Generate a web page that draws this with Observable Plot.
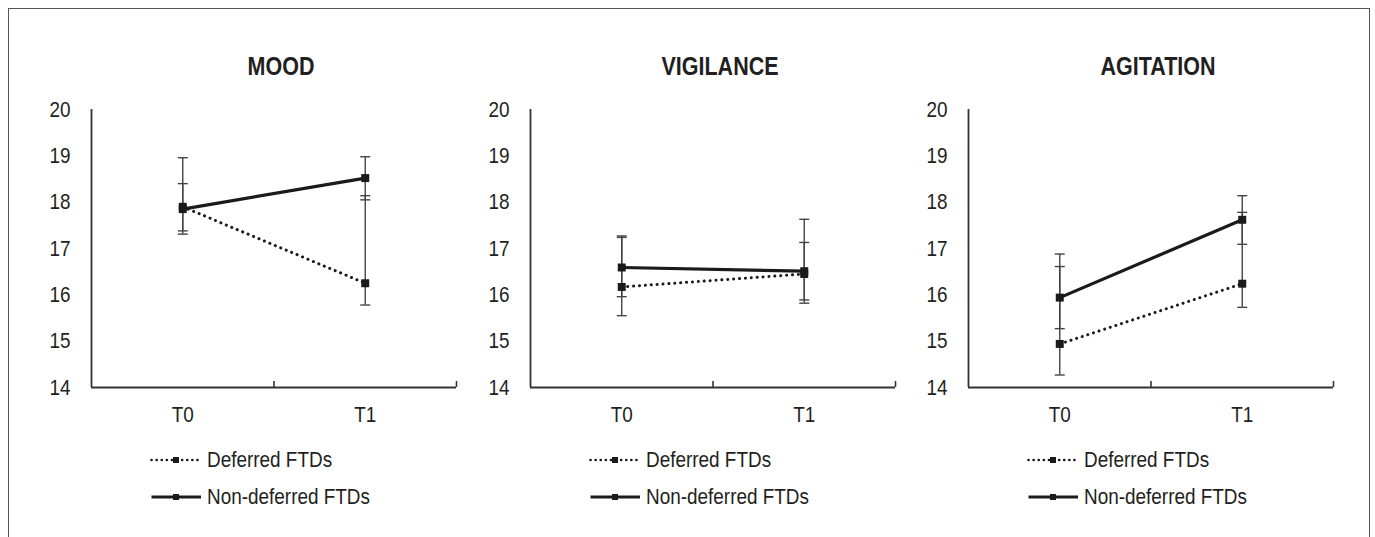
<!DOCTYPE html>
<html><head><meta charset="utf-8">
<script src="https://cdn.jsdelivr.net/npm/d3@7"></script>
<script src="https://cdn.jsdelivr.net/npm/@observablehq/plot@0.6"></script>
<style>
body{margin:0;background:#fff;}
#wrap{position:relative;width:1375px;height:537px;overflow:hidden;background:#fff;font-family:"Liberation Sans",Arial,sans-serif;color:#231f20;}
#frame{position:absolute;left:8px;top:8px;width:1362px;height:600px;border:1px solid #555;box-sizing:border-box;}
.panel{position:absolute;top:0;}
.legend{position:absolute;top:441px;font-size:22px;line-height:37px;}
.legend .row{display:flex;align-items:center;height:37px;white-space:nowrap;}
.legend svg{display:block;margin-right:5px;}
.legend span{display:inline-block;transform:scaleX(0.86);transform-origin:0 50%;}
</style></head>
<body><div id="wrap"><div id="frame"></div></div>
<script>
const panels = ["MOOD", "VIGILANCE", "AGITATION"];
const timepoints = ["T0", "T1"];
const seriesNames = ["Deferred FTDs", "Non-deferred FTDs"];
const yTicks = [14, 15, 16, 17, 18, 19, 20];
// [panel][timepoint]
const deferredMean = [[17.90, 16.25], [16.17, 16.45], [14.94, 16.24]];
const deferredLow  = [[17.38, 15.78], [15.55, 15.82], [14.27, 15.73]];
const deferredHigh = [[18.96, 18.14], [17.24, 17.63], [16.88, 17.78]];
const nondeferredMean = [[17.85, 18.52], [16.59, 16.51], [15.94, 17.62]];
const nondeferredLow  = [[17.31, 18.05], [15.96, 15.89], [15.27, 17.09]];
const nondeferredHigh = [[18.40, 18.98], [17.27, 17.13], [16.61, 18.14]];

const FONT = '"Liberation Sans",Arial,sans-serif';
const INK = "#231f20";
const NARROW = 0.86;
const capSymbol = {draw(ctx, size) { const w = Math.sqrt(size / Math.PI); ctx.moveTo(-w, 0); ctx.lineTo(w, 0); }};
const panelLefts = [0, 439, 877];
const wrap = document.getElementById("wrap");

panels.forEach((name, p) => {
  const rows = [];
  timepoints.forEach((t, i) => {
    rows.push({series: seriesNames[0], xpos: i + 0.5, mean: deferredMean[p][i], low: deferredLow[p][i], high: deferredHigh[p][i]});
    rows.push({series: seriesNames[1], xpos: i + 0.5, mean: nondeferredMean[p][i], low: nondeferredLow[p][i], high: nondeferredHigh[p][i]});
  });
  const caps = rows.flatMap(d => [{xpos: d.xpos, v: d.low}, {xpos: d.xpos, v: d.high}]);
  const def = rows.filter(d => d.series === seriesNames[0]);
  const non = rows.filter(d => d.series === seriesNames[1]);
  const chart = Plot.plot({
    width: 470, height: 437,
    marginLeft: 91, marginRight: 14, marginTop: 109, marginBottom: 50,
    x: {domain: [0, timepoints.length], axis: null, label: null},
    y: {domain: [14, 20], axis: null, label: null},
    style: {background: "transparent", fontFamily: FONT, fontSize: "22px", color: INK, overflow: "visible"},
    marks: [
      Plot.ruleX([0], {stroke: "#333", strokeWidth: 1.8}),
      Plot.ruleY([14], {stroke: "#333", strokeWidth: 1.8}),
      Plot.axisX({ticks: [1, 2], tickSize: -6, tickFormat: () => "", label: null, stroke: "#333", strokeWidth: 1.6}),
      Plot.axisX({ticks: timepoints.map((t, i) => i + 0.5), tickSize: 0, tickPadding: 19, tickFormat: d => timepoints[Math.floor(d)], label: null, fontSize: 22}),
      Plot.axisY({ticks: yTicks, tickSize: 0, tickPadding: 21, tickFormat: d3.format("d"), label: null, fontSize: 22}),
      Plot.text([name], {frameAnchor: "top", lineAnchor: "middle", dy: -43, dx: 7, fontWeight: "bold", fontSize: 25, fill: INK}),
      Plot.ruleX(rows, {x: "xpos", y1: "low", y2: "high", stroke: "#444", strokeWidth: 1.4}),
      Plot.dot(caps, {x: "xpos", y: "v", symbol: capSymbol, r: 5, stroke: "#444", strokeWidth: 1.4, fill: "none"}),
      Plot.line(def, {x: "xpos", y: "mean", stroke: "#1a1a1a", strokeWidth: 3, strokeDasharray: "0.1 5.8", strokeLinecap: "round"}),
      Plot.line(non, {x: "xpos", y: "mean", stroke: "#1a1a1a", strokeWidth: 3.2}),
      Plot.dot(rows, {x: "xpos", y: "mean", symbol: "square", fill: "#1a1a1a", r: 4.5})
    ]
  });
  chart.querySelectorAll("text").forEach(t => {
    const x = +t.getAttribute("x") || 0;
    const tr = t.getAttribute("transform") || "";
    t.setAttribute("transform", `${tr} translate(${x},0) scale(${NARROW},1) translate(${-x},0)`);
  });
  const holder = document.createElement("div");
  holder.className = "panel";
  holder.style.left = panelLefts[p] + "px";
  holder.appendChild(chart);
  wrap.appendChild(holder);

  const legend = document.createElement("div");
  legend.className = "legend";
  legend.style.left = (panelLefts[p] + 150) + "px";
  seriesNames.forEach((s, k) => {
    const row = document.createElement("div");
    row.className = "row";
    const dash = k === 0 ? 'stroke-dasharray="0.1 5" stroke-linecap="round" stroke-width="2.6"' : 'stroke-width="3"';
    row.innerHTML = `<svg width="52" height="20"><line x1="1.5" y1="10" x2="51" y2="10" stroke="#1a1a1a" ${dash}/><rect x="23" y="7" width="6" height="6" fill="#1a1a1a"/></svg><span>${s}</span>`;
    legend.appendChild(row);
  });
  wrap.appendChild(legend);
});
</script>
</body></html>
